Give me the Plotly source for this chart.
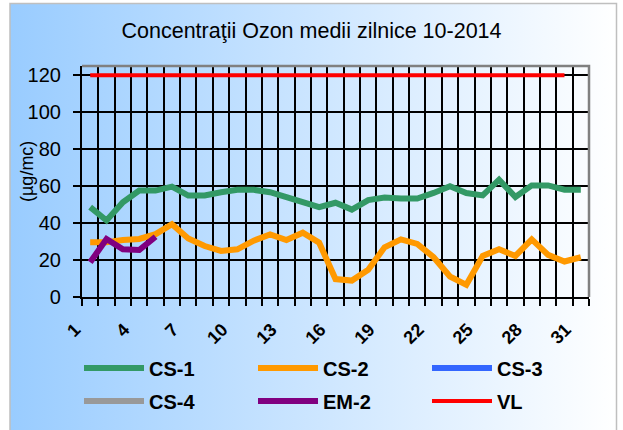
import base64
import plotly.graph_objects as go

# ---- data ----
days = list(range(1, 32))
cs1 = [48.6, 41.4, 51.3, 57.6, 57.6, 59.7, 54.9, 54.9, 56.7, 58.0, 58.0, 56.7, 54.0, 51.3, 48.6,
       51.0, 47.3, 52.4, 53.8, 53.3, 53.3, 56.3, 59.9, 56.3, 55.0, 63.5, 54.1, 60.4, 60.4, 58.1, 58.1]
cs2 = [29.6, 29.6, 30.8, 31.4, 34.0, 39.4, 31.7, 27.6, 24.9, 25.8, 30.5, 33.9, 30.8, 34.8, 29.4,
       9.7, 8.9, 14.7, 26.9, 31.2, 28.7, 21.5, 11.1, 6.6, 22.2, 25.8, 22.2, 31.2, 22.8, 19.2, 21.5]
cs3 = [None] * 31
cs4 = [None] * 31
em2 = [18.8, 31.4, 25.8, 25.4, 32.6] + [None] * 26
vl = [120] * 30 + [None]

x_tick_labels = ["1", "4", "7", "10", "13", "16", "19", "22", "25", "28", "31"]
y_tick_vals = [0, 20, 40, 60, 80, 100, 120]

title_text = "Concentraţii Ozon medii zilnice 10-2014"
y_title = "(µg/mc)"

# ---- layout geometry ----
W, H = 623, 430
L, R, T, B = 82, 34, 66, 133
PW, PH = W - L - R, H - T - B


def px(xp):
    return (xp - L) / PW


def py(yp):
    return (H - B - yp) / PH


FONT = "Liberation Sans, Arial, sans-serif"

fig = go.Figure()
series = [
    ("CS-1", cs1, "#339966", 6, "legend"),
    ("CS-2", cs2, "#FF9900", 6, "legend"),
    ("CS-3", cs3, "#3366FF", 6, "legend"),
    ("CS-4", cs4, "#999999", 6, "legend2"),
    ("EM-2", em2, "#800080", 6, "legend2"),
    ("VL", vl, "#FF0000", 4, "legend2"),
]
for name, vals, color, width, lg in series:
    fig.add_trace(go.Scatter(
        x=days, y=vals, name=name, mode="lines",
        line=dict(color=color, width=width),
        legend=lg, connectgaps=False,
    ))

svg = ('<svg xmlns="http://www.w3.org/2000/svg" width="600" height="420" preserveAspectRatio="none">'
       '<defs><linearGradient id="g" x1="0" y1="0" x2="1" y2="0">'
       '<stop offset="0" stop-color="#99CCFF"/><stop offset="1" stop-color="#FFFFFF"/>'
       '</linearGradient></defs><rect width="600" height="420" fill="url(#g)"/></svg>')
svg_uri = "data:image/svg+xml;base64," + base64.b64encode(svg.encode()).decode()

box_l, box_r, box_t, box_b = 10, 616.5, 3.5, 432

legend_common = dict(orientation="h", xanchor="left", yanchor="middle",
                     bgcolor="rgba(0,0,0,0)", entrywidth=99, entrywidthmode="pixels",
                     itemwidth=60, font=dict(family=FONT, size=20, color="black", weight="bold"))

fig.update_layout(
    width=W, height=H,
    margin=dict(l=L, r=R, t=T, b=B, autoexpand=False),
    paper_bgcolor="white",
    plot_bgcolor="white",
    font=dict(family=FONT, size=19, color="black"),
    title=dict(text=title_text, x=0.5, xanchor="center", y=1 - 30 / H, yanchor="middle",
               font=dict(family=FONT, size=21.5, color="black")),
    images=[dict(source=svg_uri, xref="paper", yref="paper",
                 x=px(box_l), y=py(box_t), sizex=(box_r - box_l) / PW, sizey=(box_b - box_t) / PH,
                 xanchor="left", yanchor="top", sizing="stretch", layer="below")],
    shapes=[
        dict(type="rect", xref="paper", yref="paper", x0=px(box_l), x1=px(box_r),
             y0=py(box_b), y1=py(box_t), line=dict(color="#BFBFBF", width=1.5),
             fillcolor="rgba(0,0,0,0)", layer="below"),
        dict(type="path", xref="paper", yref="paper", path="M 0,1 L 1,1 L 1,0",
             line=dict(color="#808080", width=2.5), layer="above"),
    ],
    annotations=[
        dict(text=y_title, xref="paper", yref="paper", x=px(27), y=py(172),
             xanchor="center", yanchor="middle", textangle=-90, showarrow=False,
             font=dict(family=FONT, size=18, color="black")),
    ],
    showlegend=True,
    legend=dict(x=px(79), y=py(368), **legend_common),
    legend2=dict(x=px(79), y=py(401), **legend_common),
)

fig.update_xaxes(
    range=[0.5, 31.5],
    tickmode="array",
    tickvals=[int(t) for t in x_tick_labels],
    ticktext=x_tick_labels,
    tickangle=-45,
    ticks="",
    showgrid=False,
    zeroline=False,
    automargin=False,
    showline=True, linecolor="black", linewidth=2,
    tickfont=dict(family=FONT, size=18, color="black", weight="bold"),
    ticklabelstandoff=13,
    ticklabelshift=-15,
    minor=dict(tickmode="linear", tick0=0.5, dtick=1, ticks="outside", ticklen=7,
               tickwidth=2, tickcolor="black", showgrid=True, gridcolor="black", gridwidth=2),
)
fig.update_yaxes(
    range=[0, 125],
    tickmode="array",
    tickvals=y_tick_vals,
    ticktext=[str(v) + "\u2009\u2009" for v in y_tick_vals],
    ticks="outside", ticklen=7, tickwidth=2, tickcolor="black",
    showgrid=True, gridcolor="black", gridwidth=2,
    zeroline=False,
    automargin=False,
    showline=True, linecolor="black", linewidth=2,
    tickfont=dict(family=FONT, size=20, color="black"),
)

fig.write_html("out.html", config={"displayModeBar": False},
               post_script="document.body.style.margin='0';")
